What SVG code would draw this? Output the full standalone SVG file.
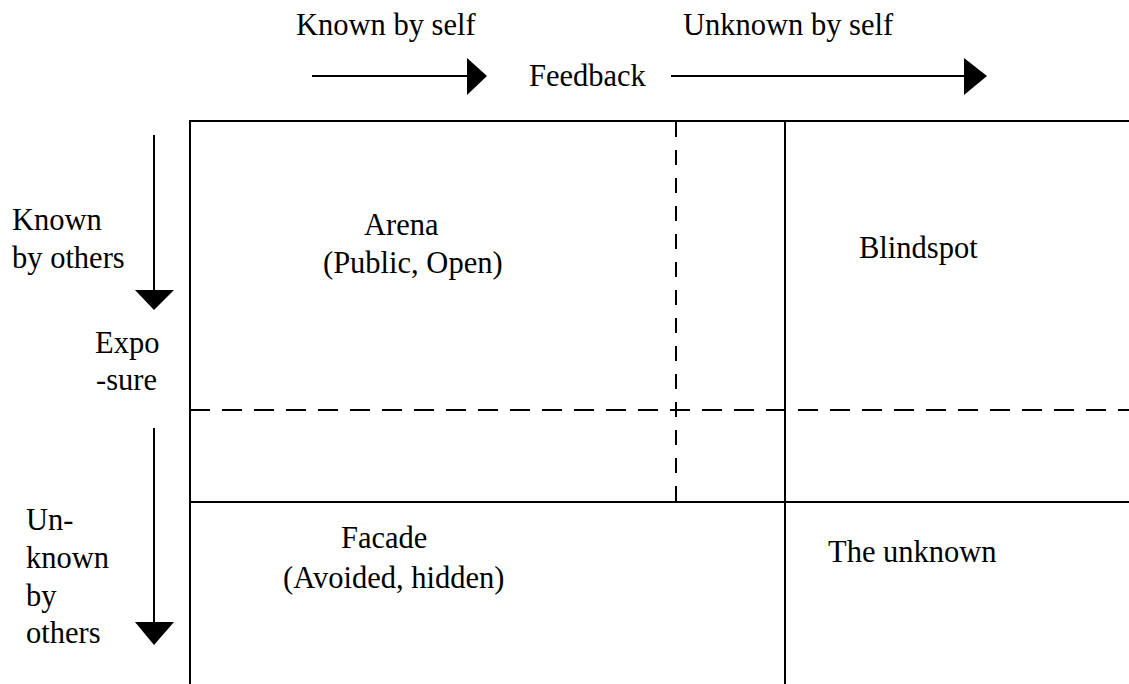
<svg xmlns="http://www.w3.org/2000/svg" width="1129" height="684" viewBox="0 0 1129 684">
<style>
text{font-family:"Liberation Serif","Times New Roman",serif;font-size:30.5px;fill:#000}
.solid{stroke:#000;stroke-width:2;fill:none}
.dash{stroke:#000;stroke-width:2;fill:none;stroke-dasharray:20 12}
.vdash{stroke:#000;stroke-width:2;fill:none;stroke-dasharray:15 13}
.ah{fill:#000}
</style>
<rect width="1129" height="684" fill="#fff"/>
<g id="grid">
<path class="solid" d="M190 684V121H1129"/>
<path class="solid" d="M785 121V684"/>
<path class="solid" d="M190 502H1129"/>
<path class="vdash" d="M676 122V502"/>
<path class="dash" d="M190 410H1129"/>
</g>
<g id="connectors">
<path class="solid" d="M312 76H469"/>
<polygon class="ah" points="467,58 487,76 467,95"/>
<path class="solid" d="M671 76H966"/>
<polygon class="ah" points="964,58 987,76 964,95"/>
<path class="solid" d="M154 135V292"/>
<polygon class="ah" points="135,290 174,290 154,310"/>
<path class="solid" d="M154 428V624"/>
<polygon class="ah" points="135,622 174,622 154,645"/>
</g>
<g id="top-labels">
<text x="296" y="35">Known by self</text>
<text x="683" y="35">Unknown by self</text>
<text x="529" y="86">Feedback</text>
</g>
<g id="left-labels">
<text x="12" y="230">Known</text>
<text x="12" y="268">by others</text>
<text x="95" y="353">Expo</text>
<text x="96" y="390">-sure</text>
<text x="26" y="530">Un-</text>
<text x="26" y="568">known</text>
<text x="26" y="606">by</text>
<text x="26" y="643">others</text>
</g>
<g id="arena">
<text x="364" y="235">Arena</text>
<text x="323" y="273">(Public, Open)</text>
</g>
<g id="blindspot">
<text x="859" y="258">Blindspot</text>
</g>
<g id="facade">
<text x="341" y="548">Facade</text>
<text x="283" y="588">(Avoided, hidden)</text>
</g>
<g id="unknown">
<text x="828" y="562">The unknown</text>
</g>
</svg>
